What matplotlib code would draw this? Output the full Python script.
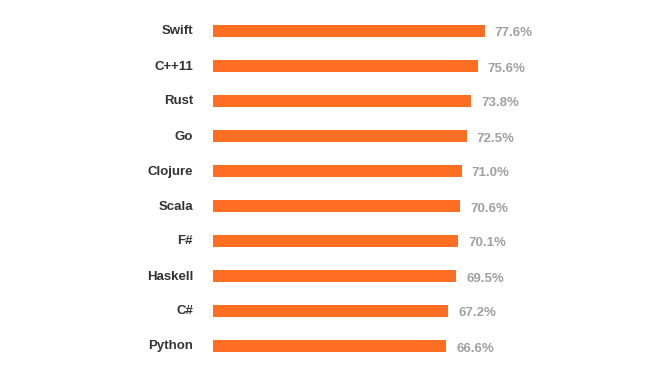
import matplotlib.pyplot as plt

languages = ["Swift", "C++11", "Rust", "Go", "Clojure", "Scala", "F#", "Haskell", "C#", "Python"]
loved = [77.6, 75.6, 73.8, 72.5, 71.0, 70.6, 70.1, 69.5, 67.2, 66.6]

W, H = 664, 376
fig = plt.figure(figsize=(W / 100, H / 100), dpi=100)
# axes: x=0 at pixel 213, 3.5 px per percent; rows 35 px apart
ax = fig.add_axes([213 / W, (H - 363.5) / H, 350 / W, 350 / H])

ypos = list(range(len(languages)))
ax.barh(ypos, loved, height=0.36, color="#fe6f24")
ax.set_xlim(0, 100)
ax.set_ylim(len(languages) - 0.5, -0.5)
ax.axis("off")

for y, name, v in zip(ypos, languages, loved):
    ax.annotate(name, (0, y), xytext=(-20, -0.5), textcoords="offset pixels",
                ha="right", va="center", fontsize=9.5, fontweight="bold",
                color="#333333", family="Liberation Sans")
    ax.annotate("{:.1f}%".format(v), (v, y), xytext=(10, -2.5), textcoords="offset pixels",
                ha="left", va="center", fontsize=9.5, fontweight="bold",
                color="#a0a0a0", family="Liberation Sans")

fig.savefig("out.png", dpi=100)
